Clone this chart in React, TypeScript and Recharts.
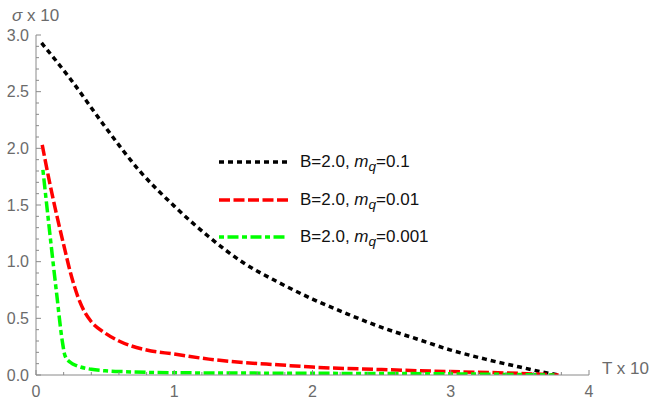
import { LineChart, Line, XAxis, YAxis, Legend, Label } from "recharts";

// values (T x 10 on x, sigma x 10 on y)
const blackT = [0.04, 0.25, 0.5, 0.75, 1.0, 1.25, 1.5, 1.75, 2.0, 2.25, 2.5, 2.75, 3.0, 3.25, 3.5, 3.65, 3.78];
const blackSigma = [2.93, 2.61, 2.19, 1.8, 1.49, 1.22, 0.99, 0.82, 0.67, 0.54, 0.42, 0.32, 0.22, 0.14, 0.07, 0.03, 0.0];

const redT = [0.045, 0.1, 0.15, 0.2, 0.25, 0.3, 0.35, 0.4, 0.5, 0.6, 0.8, 1.0, 1.25, 1.5, 1.75, 2.0, 2.5, 3.0, 3.4, 3.78];
const redSigma = [2.03, 1.69, 1.41, 1.15, 0.9, 0.7, 0.56, 0.47, 0.37, 0.3, 0.22, 0.185, 0.14, 0.11, 0.09, 0.07, 0.048, 0.03, 0.018, 0.0];

const greenT = [0.05, 0.1, 0.15, 0.19, 0.21, 0.25, 0.3, 0.4, 0.5, 0.65, 1.0, 2.0, 3.0, 3.75];
const greenSigma = [1.81, 1.25, 0.71, 0.3, 0.17, 0.11, 0.08, 0.05, 0.037, 0.029, 0.02, 0.015, 0.01, 0.0];

const xTicks = [0, 0.2, 0.4, 0.6, 0.8, 1, 1.2, 1.4, 1.6, 1.8, 2, 2.2, 2.4, 2.6, 2.8, 3, 3.2, 3.4, 3.6, 3.8, 4];
const yTicks = [
  0, 0.1, 0.2, 0.3, 0.4, 0.5, 0.6, 0.7, 0.8, 0.9, 1.0, 1.1, 1.2, 1.3, 1.4, 1.5, 1.6, 1.7, 1.8, 1.9, 2.0,
  2.1, 2.2, 2.3, 2.4, 2.5, 2.6, 2.7, 2.8, 2.9, 3.0,
];

const seriesLabels = ["0.1", "0.01", "0.001"];

const toPoints = (xs: number[], ys: number[]) => xs.map((x, i) => ({ x, y: ys[i] }));

const blackData = toPoints(blackT, blackSigma);
const redData = toPoints(redT, redSigma);
const greenData = toPoints(greenT, greenSigma);

const FONT = "'Liberation Sans', Arial, sans-serif";
const AXIS_COLOR = "#8a8a8a";
const TICK_COLOR = "#6b6b6b";

const series = [
  { data: blackData, color: "#000000", dash: "5 4", label: seriesLabels[0] },
  { data: redData, color: "#ff0000", dash: "11 3.5", label: seriesLabels[1] },
  { data: greenData, color: "#00ff00", dash: "5 3.5 11 3.5", label: seriesLabels[2] },
];

const isWhole = (v: number, step: number) => Math.abs(v / step - Math.round(v / step)) < 1e-6;

const YTick = (props: any) => {
  const { x, y, payload } = props;
  const v = payload.value as number;
  const major = isWhole(v, 0.5);
  return (
    <g>
      <line x1={x} x2={x + (major ? 5 : 3)} y1={y} y2={y} stroke={AXIS_COLOR} />
      {major && (
        <text x={x - 7} y={y} dy="0.36em" textAnchor="end" fill={TICK_COLOR} fontSize={16} fontFamily={FONT}>
          {v.toFixed(1)}
        </text>
      )}
    </g>
  );
};

const XTick = (props: any) => {
  const { x, y, payload } = props;
  const v = payload.value as number;
  const major = isWhole(v, 1);
  return (
    <g>
      <line x1={x} x2={x} y1={y} y2={y - (major ? 5 : 3)} stroke={AXIS_COLOR} />
      {major && (
        <text x={x} y={y + 22} textAnchor="middle" fill={TICK_COLOR} fontSize={16} fontFamily={FONT}>
          {v}
        </text>
      )}
    </g>
  );
};

const LegendBox = () => (
  <div style={{ fontFamily: FONT, fontSize: 17, color: "#111" }}>
    {series.map((s) => (
      <div key={s.label} style={{ display: "flex", alignItems: "center", height: 37.7 }}>
        <svg width={70} height={8} style={{ marginRight: 12 }}>
          <line x1={1} x2={70} y1={4} y2={4} stroke={s.color} strokeWidth={3.5} strokeDasharray={s.dash} />
        </svg>
        <span style={{ lineHeight: "20px" }}>
          B=2.0, <i>m</i>
          <sub style={{ fontStyle: "italic", fontSize: "0.8em", lineHeight: 0 }}>q</sub>={s.label}
        </span>
      </div>
    ))}
  </div>
);

export default function App() {
  return (
    <div style={{ position: "absolute", left: 0, top: 0, background: "#fff" }}>
      <LineChart width={654} height={400} margin={{ top: 35, right: 65, bottom: 0, left: 0 }}>
        <XAxis
          type="number"
          dataKey="x"
          domain={[0, 4]}
          ticks={xTicks}
          interval={0}
          tickSize={0}
          tickMargin={0}
          height={25}
          stroke={AXIS_COLOR}
          tick={XTick}
          allowDataOverflow
        >
          <Label
            content={(p: any) => (
              <text
                x={p.viewBox.x + p.viewBox.width + 13}
                y={p.viewBox.y - 7}
                dy="0.36em"
                fill={TICK_COLOR}
                fontSize={17}
                fontFamily={FONT}
              >
                T x 10
              </text>
            )}
          />
        </XAxis>
        <YAxis
          type="number"
          domain={[0, 3]}
          ticks={yTicks}
          interval={0}
          tickSize={0}
          tickMargin={0}
          width={36}
          stroke={AXIS_COLOR}
          tick={YTick}
          allowDataOverflow
        >
          <Label
            content={(p: any) => (
              <text x={12} y={p.viewBox.y - 20} dy="0.36em" fill={TICK_COLOR} fontSize={17} fontFamily={FONT}>
                <tspan fontStyle="italic">σ</tspan> x 10
              </text>
            )}
          />
        </YAxis>
        <Legend
          layout="vertical"
          align="center"
          verticalAlign="middle"
          content={LegendBox}
          wrapperStyle={{ left: 218, top: 143, width: 260 }}
        />
        {series.map((s) => (
          <Line
            key={s.label}
            data={s.data}
            dataKey="y"
            type="monotone"
            stroke={s.color}
            strokeWidth={3.5}
            strokeDasharray={s.dash}
            dot={false}
            activeDot={false}
            isAnimationActive={false}
          />
        ))}
      </LineChart>
    </div>
  );
}
